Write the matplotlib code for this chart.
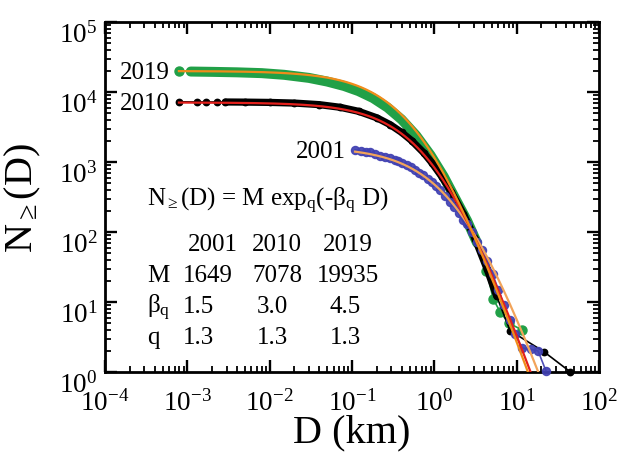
import numpy as np
import matplotlib
matplotlib.use('Agg')
import matplotlib.pyplot as plt
import matplotlib.transforms as mtransforms

plt.rcParams['font.family'] = ['Liberation Serif', 'DejaVu Serif']
plt.rcParams['mathtext.fontset'] = 'custom'
plt.rcParams['mathtext.rm'] = 'Liberation Serif'
plt.rcParams['mathtext.it'] = 'Liberation Serif:italic'
plt.rcParams['mathtext.bf'] = 'Liberation Serif:bold'

# ---------------- data ----------------
years = ['2001', '2010', '2019']
fit_M = [1649, 7078, 19935]
fit_beta = [1.5, 3.0, 4.5]
fit_q = [1.3, 1.3, 1.3]

# 2019 catalogue (green)
green_D = [7.9e-4, 1.1e-3, 2e-3, 4e-3, 8e-3, 0.015, 0.03, 0.05, 0.08, 0.12, 0.18,
           0.27, 0.4, 0.6, 0.9, 1.3, 1.8, 2.5, 3.3, 4.3, 5.2, 6.3, 8.0, 11.6]
green_N = [20150, 19600, 19400, 19100, 18600, 17600, 15900, 14100, 12200, 10300, 8200,
           6000, 4050, 2400, 1250, 620, 300, 145, 70, 28, 11, 7.2, 5.0, 4.0]

# 2010 catalogue (black)
black_D = [7.9e-4, 1.3e-3, 1.7e-3, 2.3e-3, 2.9e-3, 5e-3, 0.01, 0.02, 0.04, 0.0716, 0.12,
           0.2, 0.29, 0.4, 0.53, 0.74, 0.93, 1.23, 1.6, 2.26, 3.13, 4.35, 5.74, 8.3, 21.4, 45]
black_N = [7250, 7200, 7200, 7200, 7200, 7170, 7100, 6950, 6600, 6050, 5300,
           4280, 3420, 2650, 2020, 1360, 980, 620, 375, 180, 80, 30, 12, 3.9, 1.95, 1.0]

# 2001 catalogue (blue)
blue_D = [0.109, 0.13, 0.15, 0.166, 0.19, 0.219, 0.25, 0.29, 0.33, 0.366, 0.41, 0.46,
          0.52, 0.58, 0.66, 0.738, 0.83, 0.93, 1.05, 1.17, 1.35, 1.55, 1.75, 2.0, 2.25,
          2.5, 2.85, 3.3, 3.8, 4.4, 5.1, 6.0, 7.0, 8.2, 9.5, 11.6, 15.0, 18.2, 22.6]
blue_N = [1500, 1430, 1400, 1370, 1300, 1230, 1180, 1130, 1070, 1030, 960, 900,
          840, 780, 700, 650, 580, 520, 455, 400, 330, 270, 225, 185, 150,
          130, 100, 72, 55, 38, 25, 15, 9, 5.5, 3.5, 2.2, 2.1, 2.0, 1.05]

# ---------------- style ----------------
GREEN = '#21a047'
BLUE = '#4141b2'
fit_colors = ['#f2a45a', '#e3201c', '#f08c1a']

fig = plt.figure(figsize=(6.17, 4.56), dpi=100)
W, H = 617, 456
ax = fig.add_axes([105 / W, 1 - 373 / H, 494 / W, 350 / H])
ax.set_xscale('log')
ax.set_yscale('log')
ax.set_xlim(1e-4, 1e2)
ax.set_ylim(1, 1e5)

# green (2019): isolated first point, dense band, sparse tail
ax.plot(green_D, green_N, color=GREEN, lw=1.2, zorder=2)
ax.plot(green_D[1:19], green_N[1:19], color=GREEN, lw=7.2, solid_capstyle='round', zorder=2)
ax.plot([green_D[0]] + green_D[19:], [green_N[0]] + green_N[19:], 'o', ls='none',
        color=GREEN, ms=6.5, zorder=2)

# black (2010)
ax.plot(black_D, black_N, color='k', lw=1.2, marker='o', ms=4.6, clip_on=False, zorder=3)
ax.plot(black_D[4:23], black_N[4:23], color='k', lw=5.2, solid_capstyle='round', zorder=3)

# blue (2001)
ax.plot(blue_D, blue_N, color=BLUE, lw=1.2, marker='o', ms=5.8, mec=BLUE, alpha=0.92,
        clip_on=False, zorder=4)

# q-exponential fits from the parameters of the table
starts = [blue_D[0], black_D[0], green_D[0]]
for M, b, q, c, d0 in zip(fit_M, fit_beta, fit_q, fit_colors, starts):
    Dg = np.logspace(np.log10(d0), np.log10(80), 500)
    Ng = M * (1 + (1 - q) * (-b * Dg)) ** (1 / (1 - q))
    ax.plot(Dg, Ng, color=c, lw=1.6, zorder=5)

# year labels
for txt, dx, nx in [('2019', green_D[0], green_N[0]), ('2010', black_D[0], black_N[0]),
                    ('2001', blue_D[0], blue_N[0])]:
    ax.annotate(txt, xy=(dx, nx), xytext=(-9, -1), textcoords='offset pixels',
                ha='right', va='center', fontsize=18, zorder=6)

# axes styling
for s in ax.spines.values():
    s.set_linewidth(2.0)
ax.tick_params(which='both', direction='in', top=True, right=True)
ax.tick_params(which='major', length=8.5, width=1.7, labelsize=19.5, pad=12)
ax.tick_params(which='minor', length=4.5, width=1.3)
ax.tick_params(axis='y', which='major', pad=5.5)
ax.set_xticks([1e-4, 1e-3, 1e-2, 1e-1, 1e0, 1e1, 1e2])
ax.set_yticks([1e0, 1e1, 1e2, 1e3, 1e4, 1e5])
off = mtransforms.ScaledTranslation(0, -9 / 100, fig.dpi_scale_trans)
for lab in ax.get_yticklabels():
    lab.set_transform(lab.get_transform() + off)

ax.set_xlabel('D (km)', fontsize=29)
ax.set_ylabel(r'N$_{\geq}$(D)', fontsize=29)
ax.xaxis.set_label_coords(0.5, -0.118)
ax.yaxis.set_label_coords(-0.126, 0.5)

# formula and table
def ftext(px, py, s, size=18):
    fig.text(px / W, 1 - py / H, s, ha='left', va='baseline', fontsize=size)

ftext(147, 206, r'N$_{\geq}$(D) = M exp$_{\mathrm{q}}$(-β$_{\mathrm{q}}$ D)')
for x, s in zip([188, 252, 323], years):
    ftext(x, 251, s)
ftext(147, 282, 'M')
for x, v in zip([183, 252, 317], fit_M):
    ftext(x, 282, str(v))
ftext(147, 313, r'β$_{\mathrm{q}}$')
for x, v in zip([183, 257, 330], fit_beta):
    ftext(x, 313, f'{v:.1f}')
ftext(147, 344, 'q')
for x, v in zip([183, 257, 330], fit_q):
    ftext(x, 344, f'{v:.1f}')

fig.savefig('out.png', dpi=100)
